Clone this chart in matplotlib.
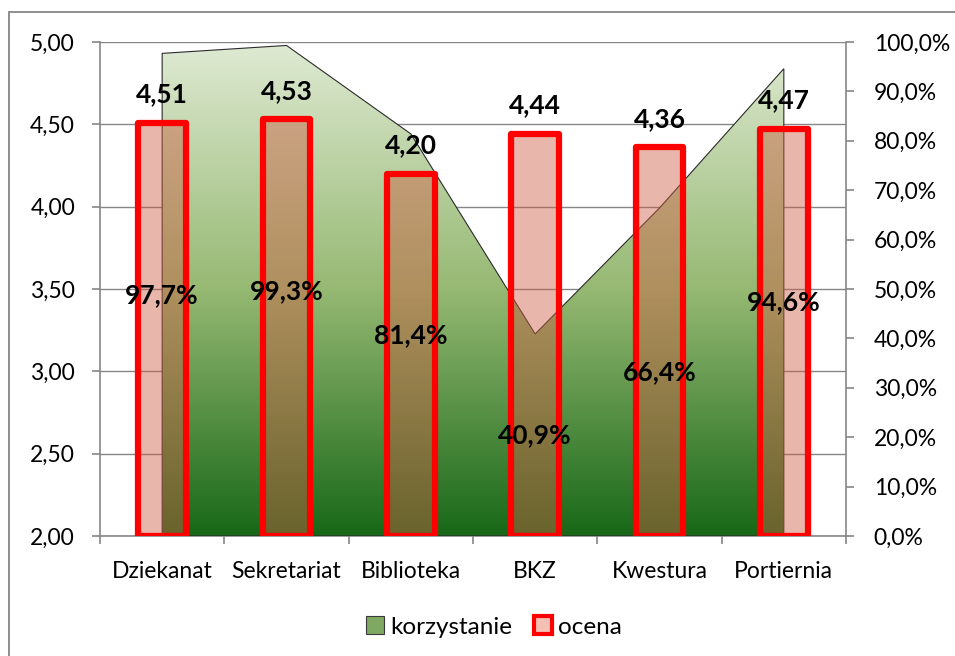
import numpy as np
import matplotlib
matplotlib.use("Agg")
import matplotlib.pyplot as plt
from matplotlib.patches import Polygon, Rectangle, Patch
from matplotlib.colors import LinearSegmentedColormap
from matplotlib.ticker import FuncFormatter, MultipleLocator, FixedLocator

plt.rcParams['font.family'] = ['Lato', 'DejaVu Sans']

categories = ["Dziekanat", "Sekretariat", "Biblioteka", "BKZ", "Kwestura", "Portiernia"]
ocena = [4.51, 4.53, 4.20, 4.44, 4.36, 4.47]
korzystanie = [0.977, 0.993, 0.814, 0.409, 0.664, 0.946]

W, H = 955, 656
fig = plt.figure(figsize=(W / 100, H / 100), dpi=100)

# outer chart frame (cut off at right/bottom in reference)
fig.patches.append(Rectangle((9 / W, -0.05), 1.2, 1 - 12 / H + 0.05, transform=fig.transFigure,
                             fill=False, edgecolor="#868686", linewidth=1.3))

pos = [100 / W, 1 - 536 / H, (846 - 100) / W, (536 - 42) / H]
ax = fig.add_axes(pos)
ax2 = ax.twinx()
ax3 = fig.add_axes(pos, sharex=ax, sharey=ax)
ax3.axis("off")
ax3.set_zorder(5)
ax2.set_zorder(3)
ax.set_zorder(1)
ax2.patch.set_visible(False)
ax3.patch.set_visible(False)

x = np.arange(len(categories))
grid_c = "#868686"
tick_fs = 16.5

# left axis
ax.set_ylim(2, 5)
ax.set_xlim(-0.5, len(categories) - 0.5)
ax.yaxis.set_major_locator(MultipleLocator(0.5))
ax.yaxis.set_major_formatter(FuncFormatter(lambda v, p: f"{v:.2f}".replace(".", ",")))
ax.grid(axis="y", color=grid_c, linewidth=1.0)
ax.set_axisbelow(True)
ax.xaxis.set_major_locator(FixedLocator(np.arange(-0.5, len(categories), 1.0)))
ax.xaxis.set_major_formatter(FuncFormatter(lambda v, p: ""))
ax.xaxis.set_minor_locator(FixedLocator(x))
ax.set_xticklabels(categories, minor=True)
ax.tick_params(axis="x", which="minor", length=0, pad=18, labelsize=tick_fs)
ax.tick_params(axis="x", which="major", length=6, color=grid_c, width=1.2)
ax.tick_params(axis="y", length=6, color=grid_c, width=1.2, labelsize=tick_fs, pad=12)
for s in ["top", "right"]:
    ax.spines[s].set_visible(False)
for s in ["left", "bottom"]:
    ax.spines[s].set_color(grid_c)
    ax.spines[s].set_linewidth(1.2)

# right axis
ax2.set_ylim(0, 1)
ax2.yaxis.set_major_locator(MultipleLocator(0.1))
ax2.yaxis.set_major_formatter(FuncFormatter(lambda v, p: f"{v*100:.1f}%".replace(".", ",")))
ax2.tick_params(axis="y", length=6, color=grid_c, width=1.2, labelsize=tick_fs, pad=14)
for s in ["top", "left", "bottom"]:
    ax2.spines[s].set_visible(False)
ax2.spines["right"].set_color(grid_c)
ax2.spines["right"].set_linewidth(1.2)

# area with vertical gradient
verts = [(x[0], 0)] + list(zip(x, korzystanie)) + [(x[-1], 0)]
poly = Polygon(verts, closed=True, facecolor="none", edgecolor="#2b2b2b", linewidth=0.8, zorder=3)
ax2.add_patch(poly)
cmap = LinearSegmentedColormap.from_list("g", [(0.0, "#186818"), (0.5, "#96b973"), (1.0, "#dfead3")])
grad = np.linspace(1, 0, 256).reshape(-1, 1)
im = ax2.imshow(grad, extent=[x[0], x[-1], 0, 1], aspect="auto", cmap=cmap, vmin=0, vmax=1,
                zorder=2, interpolation="bicubic")
im.set_clip_path(poly)
ax2.set_xlim(-0.5, len(categories) - 0.5)

# bars
bar_face = (206 / 255, 94 / 255, 69 / 255, 0.45)
bars = ax3.bar(x, np.array(ocena) - 2, bottom=2, width=0.385, color=bar_face,
               edgecolor="#ff0000", linewidth=4.5, zorder=4)
for b in bars:
    b.set_joinstyle("round")

for xi, v in zip(x, ocena):
    ax3.annotate(f"{v:.2f}".replace(".", ","), (xi, v), xytext=(0, 12), textcoords="offset points",
                 ha="center", va="bottom", fontsize=19, fontweight="bold", color="black", zorder=6)

for xi, p in zip(x, korzystanie):
    ax3.text(xi, p / 2, f"{p*100:.1f}%".replace(".", ","), transform=ax2.transData,
             ha="center", va="center", fontsize=19, fontweight="bold", color="black", zorder=6)

# legend
handles = [Patch(facecolor="#7fa862", edgecolor="#3a3a3a", linewidth=0.8, label="korzystanie"),
           Patch(facecolor="#f4c0b4", edgecolor="#ff0000", linewidth=3, label="ocena")]
fig.legend(handles=handles, loc="center", bbox_to_anchor=(494 / W, 1 - 627 / H), ncol=2,
           frameon=False, fontsize=17.5, handlelength=0.75, handleheight=0.75, handletextpad=0.25,
           columnspacing=0.9)

fig.savefig("out.png", dpi=100)
